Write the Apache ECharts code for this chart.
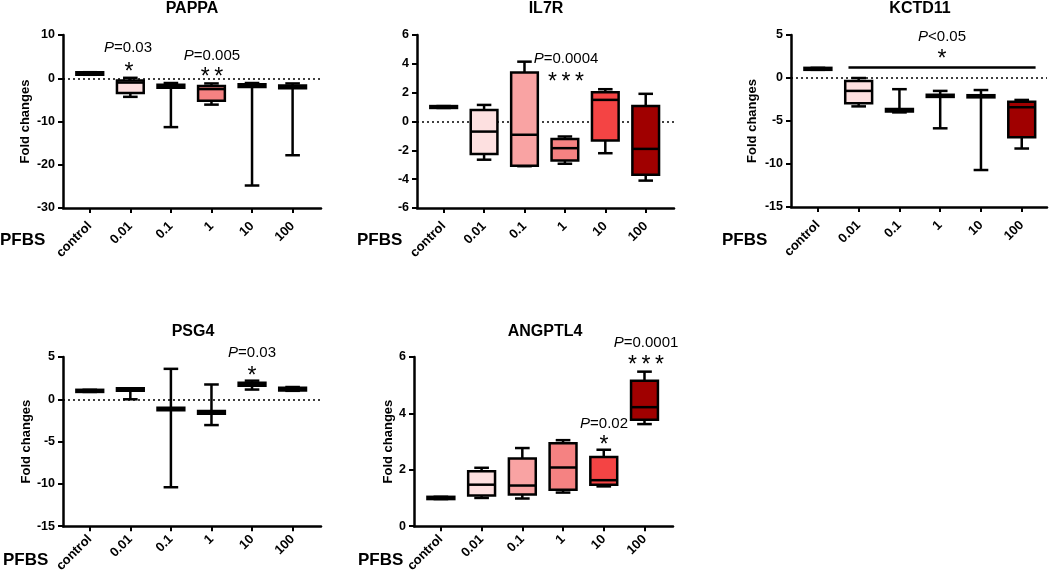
<!DOCTYPE html>
<html>
<head>
<meta charset="utf-8">
<script src="https://cdn.jsdelivr.net/npm/echarts@6/dist/echarts.min.js"></script>
<style>
html, body { margin: 0; background: #fff; }
#chart { width: 1050px; height: 575px; }
</style>
</head>
<body>
<div id="chart"></div>
<script>
var doses = ['control', '0.01', '0.1', '1', '10', '100'];
var boxColors = ['#ffffff', '#fde0e0', '#f9a3a3', '#f58282', '#f44444', '#a00000'];

// each row: [min, q1, median, q3, max]
var pappa = [[0.8, 0.8, 1.1, 1.4, 1.4], [-4.3, -3.4, -1.0, -0.5, 0.1], [-11.3, -2.2, -1.8, -1.5, -1.1],
	[-6.1, -5.2, -2.5, -1.8, -1.2], [-24.8, -2.0, -1.7, -1.4, -1.1], [-17.8, -2.3, -2.0, -1.7, -1.2]];
var il7r = [[0.94, 0.94, 1.0, 1.07, 1.07], [-2.65, -2.25, -0.7, 0.8, 1.15], [-3.1, -3.07, -0.92, 3.4, 4.15],
	[-2.93, -2.7, -1.85, -1.22, -1.04], [-2.2, -1.32, 1.5, 2.03, 2.24], [-4.1, -3.7, -1.9, 1.08, 1.92]];
var kctd11 = [[0.95, 0.95, 1.05, 1.18, 1.18], [-3.3, -2.94, -1.5, -0.35, 0], [-4.0, -3.9, -3.75, -3.6, -1.3],
	[-5.85, -2.2, -2.1, -1.95, -1.5], [-10.7, -2.25, -2.15, -2.0, -1.4], [-8.2, -6.9, -3.4, -2.75, -2.55]];
var psg4 = [[0.87, 0.87, 1.0, 1.12, 1.12], [0, 1.0, 1.15, 1.3, 1.3], [-10.4, -1.3, -1.15, -1.0, 3.6],
	[-3.05, -1.7, -1.55, -1.4, 1.75], [1.15, 1.6, 1.75, 1.95, 2.2], [1.0, 1.05, 1.2, 1.35, 1.45]];
var angptl4 = [[0.96, 0.96, 1.0, 1.04, 1.04], [1.0, 1.09, 1.47, 1.95, 2.07], [0.98, 1.12, 1.44, 2.4, 2.77],
	[1.19, 1.29, 2.08, 2.94, 3.05], [1.41, 1.47, 1.63, 2.45, 2.71], [3.62, 3.77, 4.22, 5.16, 5.48]];

// y axis ranges and tick step per gene
var yRanges = {
	PAPPA: [-30, 10, 10],
	IL7R: [-6, 6, 2],
	KCTD11: [-15, 5, 5],
	PSG4: [-15, 5, 5],
	ANGPTL4: [0, 6, 2]
};

var FONT = '"Liberation Sans", Arial, sans-serif';

var panels = [
	{ gene: 'PAPPA', data: pappa, left: 63, top: 35, width: 258, height: 173, nameGap: 31, xMax: 5.7, lblGap: 16 },
	{ gene: 'IL7R', data: il7r, left: 417, top: 35, width: 257, height: 173, nameGap: 0, xMax: 5.7, lblGap: 16 },
	{ gene: 'KCTD11', data: kctd11, left: 791, top: 35, width: 256, height: 172, nameGap: 32, xMax: 5.62, lblGap: 16 },
	{ gene: 'PSG4', data: psg4, left: 63, top: 357, width: 258, height: 172, nameGap: 29, xMax: 5.7, lblGap: 11 },
	{ gene: 'ANGPTL4', data: angptl4, left: 414, top: 357, width: 259, height: 172, nameGap: 18, xMax: 5.7, lblGap: 11 }
];

function drawBox(params, api) {
	var k = api.value(0);
	var pLo = api.coord([k, api.value(1)]);
	var pQ1 = api.coord([k, api.value(2)]);
	var pMd = api.coord([k, api.value(3)]);
	var pQ3 = api.coord([k, api.value(4)]);
	var pHi = api.coord([k, api.value(5)]);
	var unit = api.size([1, 0])[0];
	var cx = pMd[0];
	var bw = unit * 0.33, cw = unit * 0.18;
	function ln() { return { stroke: '#000', lineWidth: 2.5 }; }
	return {
		type: 'group',
		children: [
			{ type: 'line', shape: { x1: cx, y1: pQ3[1], x2: cx, y2: pHi[1] }, style: ln() },
			{ type: 'line', shape: { x1: cx, y1: pQ1[1], x2: cx, y2: pLo[1] }, style: ln() },
			{ type: 'line', shape: { x1: cx - cw, y1: pHi[1], x2: cx + cw, y2: pHi[1] }, style: ln() },
			{ type: 'line', shape: { x1: cx - cw, y1: pLo[1], x2: cx + cw, y2: pLo[1] }, style: ln() },
			{ type: 'rect', shape: { x: cx - bw, y: pQ3[1], width: 2 * bw, height: pQ1[1] - pQ3[1] },
				style: { fill: boxColors[k], stroke: '#000', lineWidth: 2.5 } },
			{ type: 'line', shape: { x1: cx - bw, y1: pMd[1], x2: cx + bw, y2: pMd[1] }, style: ln() }
		]
	};
}

var grids = [], xAxes = [], yAxes = [], series = [];
var ticks = [0, 1, 2, 3, 4, 5];

panels.forEach(function(p, i) {
	var r = yRanges[p.gene];
	grids.push({ left: p.left, top: p.top, width: p.width, height: p.height });
	xAxes.push({
		gridIndex: i, type: 'value', min: -0.66, max: p.xMax,
		splitLine: { show: false },
		axisLine: { show: true, onZero: false, lineStyle: { color: '#000', width: 2.5 } },
		axisTick: { show: true, customValues: ticks, length: 5, lineStyle: { color: '#000', width: 2 } },
		axisLabel: {
			customValues: ticks, rotate: 45, margin: p.lblGap, color: '#000',
			fontWeight: 'bold', fontSize: 13, fontFamily: FONT,
			formatter: function(v) { return doses[v]; }
		}
	});
	yAxes.push({
		gridIndex: i, type: 'value', min: r[0], max: r[1], interval: r[2],
		splitLine: { show: false },
		axisLine: { show: true, onZero: false, lineStyle: { color: '#000', width: 2.5 } },
		axisTick: { show: true, length: 5, lineStyle: { color: '#000', width: 2 } },
		axisLabel: { margin: 8, color: '#000', fontWeight: 'bold', fontSize: 12.5, fontFamily: FONT },
		name: p.nameGap ? 'Fold changes' : '',
		nameLocation: 'middle', nameRotate: 90, nameGap: p.nameGap,
		nameTextStyle: { color: '#000', fontWeight: 'bold', fontSize: 13, fontFamily: FONT }
	});

	var marks = [];
	if (r[0] < 0) {
		marks.push({ yAxis: 0, lineStyle: { type: [2, 3], width: 1.5, color: '#000' } });
	}
	if (p.gene === 'KCTD11') {
		marks.push([{ coord: [0.75, 1.25], lineStyle: { type: 'solid', width: 2.5, color: '#000' } }, { coord: [5.34, 1.25] }]);
	}

	series.push({
		type: 'custom',
		xAxisIndex: i,
		yAxisIndex: i,
		clip: false,
		silent: true,
		data: p.data.map(function(d, k) { return [k].concat(d); }),
		encode: { x: 0, y: [1, 2, 3, 4, 5] },
		renderItem: drawBox,
		markLine: { silent: true, symbol: 'none', label: { show: false }, z: 1, data: marks }
	});
});

// text annotations
function txt(x, y, s, size, bold) {
	return {
		type: 'text', x: x, y: y, silent: true,
		style: {
			text: s, fill: '#000', align: 'center', verticalAlign: 'middle',
			font: (bold ? 'bold ' : '') + size + 'px ' + FONT,
			rich: { i: { fontStyle: 'italic', fontSize: size, fontFamily: FONT } }
		}
	};
}
function left(x, y, s, size) {
	var t = txt(x, y, s, size, true);
	t.style.align = 'left';
	return t;
}

var th = '\u2009';
var graphics = [
	txt(192, 9, 'PAPPA', 16, true),
	txt(546, 9, 'IL7R', 16, true),
	txt(920, 9, 'KCTD11', 16, true),
	txt(193, 332, 'PSG4', 16, true),
	txt(545, 332, 'ANGPTL4', 16, true),
	left(0, 240, 'PFBS', 17),
	left(357, 240, 'PFBS', 17),
	left(722, 240, 'PFBS', 17),
	left(3, 560, 'PFBS', 17),
	left(358, 560, 'PFBS', 17),
	txt(128, 48, '{i|P}=0.03', 15, false),
	txt(129, 73, '*', 23, false),
	txt(212, 56, '{i|P}=0.005', 15, false),
	txt(212, 78, '*' + th + '*', 23, false),
	txt(566, 59, '{i|P}=0.0004', 15, false),
	txt(566, 83, '*' + th + '*' + th + '*', 23, false),
	txt(942, 37, '{i|P}<0.05', 15, false),
	txt(942, 60, '*', 23, false),
	txt(252, 353, '{i|P}=0.03', 15, false),
	txt(252, 377, '*', 23, false),
	txt(646, 343, '{i|P}=0.0001', 15, false),
	txt(646, 366, '*' + th + '*' + th + '*', 23, false),
	txt(604, 424, '{i|P}=0.02', 15, false),
	txt(604, 446, '*', 23, false)
];

var myChart = echarts.init(document.getElementById('chart'));
myChart.setOption({
	animation: false,
	backgroundColor: '#fff',
	grid: grids,
	xAxis: xAxes,
	yAxis: yAxes,
	series: series,
	graphic: graphics
});
</script>
</body>
</html>
